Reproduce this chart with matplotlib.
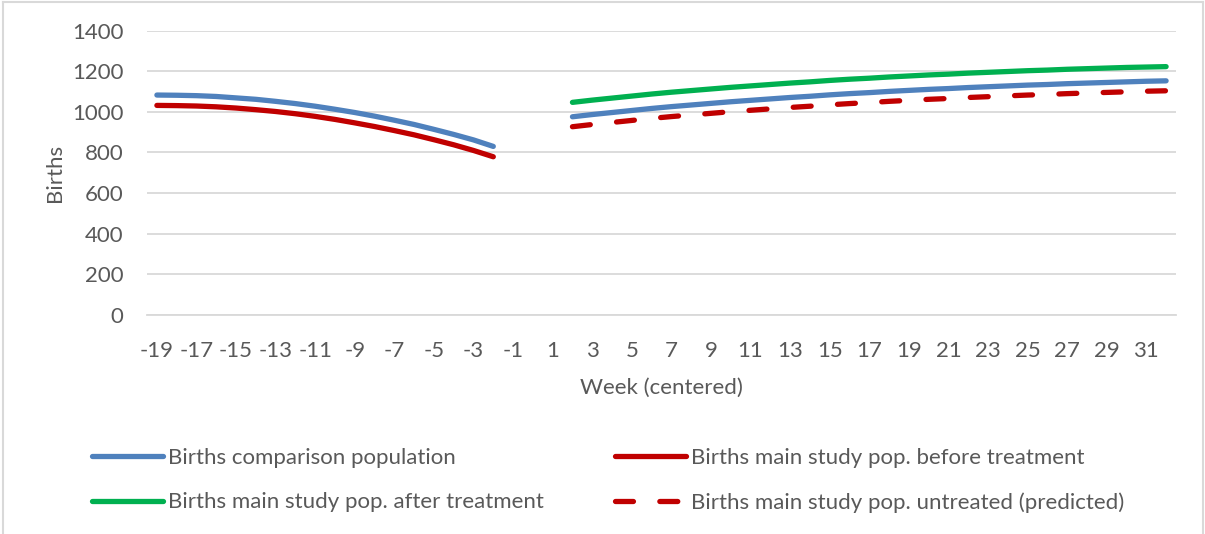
import matplotlib
matplotlib.use("Agg")
import matplotlib.pyplot as plt
import numpy as np

plt.rcParams['font.family'] = ['Lato', 'DejaVu Sans']

# weeks on the category axis
weeks = list(range(-19, 33))
weeks_before = list(range(-19, -1))
weeks_after = list(range(2, 33))

comp_before = [1082, 1081, 1079, 1075, 1068, 1061, 1051, 1040, 1027, 1012,
               996, 978, 958, 937, 913, 888, 861, 829]
main_before = [1031, 1030, 1028, 1024, 1018, 1010, 1001, 990, 977, 962,
               945, 927, 907, 886, 862, 837, 809, 778]
comp_after = [975, 986, 996, 1006, 1016, 1025, 1033, 1041, 1049, 1056, 1063,
              1070, 1076, 1083, 1089, 1094, 1100, 1105, 1110, 1114, 1119,
              1123, 1127, 1131, 1134, 1138, 1141, 1144, 1147, 1150, 1152]
main_after = [1046, 1057, 1067, 1077, 1087, 1096, 1104, 1112, 1120, 1127, 1134,
              1141, 1147, 1154, 1160, 1165, 1171, 1176, 1181, 1185, 1190,
              1194, 1198, 1202, 1205, 1209, 1212, 1215, 1218, 1220, 1222]
main_pred = [926, 937, 947, 957, 967, 976, 984, 992, 1000, 1007, 1014,
             1021, 1027, 1034, 1040, 1045, 1051, 1056, 1061, 1065, 1070,
             1074, 1078, 1082, 1085, 1089, 1092, 1095, 1098, 1101, 1103]

yticks = [0, 200, 400, 600, 800, 1000, 1200, 1400]

BLUE = '#4F81BD'
RED = '#C00000'
GREEN = '#00B050'
TXT = '#595959'
GRID = '#D9D9D9'
FS = 16

fig = plt.figure(figsize=(12.05, 5.34), dpi=100)
ax = fig.add_axes([147 / 1205, 1 - 314.7 / 534, (1176 - 147) / 1205, (314.7 - 30.5) / 534])

pos = {w: i for i, w in enumerate(weeks)}
xb = [pos[w] for w in weeks_before]
xa = [pos[w] for w in weeks_after]

lw = 3.8
l1, = ax.plot(xb, comp_before, color=BLUE, lw=lw, solid_capstyle='round',
              label='Births comparison population')
l2, = ax.plot(xb, main_before, color=RED, lw=lw, solid_capstyle='round',
              label='Births main study pop. before treatment')
ax.plot(xa, comp_after, color=BLUE, lw=lw, solid_capstyle='round')
l3, = ax.plot(xa, main_after, color=GREEN, lw=lw, solid_capstyle='round',
              label='Births main study pop. after treatment')
l4, = ax.plot(xa, main_pred, color=RED, lw=lw, dashes=(3.4, 5.0),
              dash_capstyle='round', label='Births main study pop. untreated (predicted)')

ax.set_xlim(-0.5, len(weeks) - 0.5)
ax.set_ylim(0, 1400)
ax.set_yticks(yticks)
ax.set_xticks([pos[w] for w in weeks[::2]])
ax.set_xticklabels([str(w) for w in weeks[::2]])
ax.grid(axis='y', color=GRID, lw=1.3)
ax.set_axisbelow(True)
for s in ['top', 'right', 'left']:
    ax.spines[s].set_visible(False)
ax.spines['bottom'].set_color(GRID)
ax.spines['bottom'].set_linewidth(1.3)
ax.tick_params(axis='both', length=0, labelsize=FS, colors=TXT)
ax.tick_params(axis='y', pad=17)
ax.tick_params(axis='x', pad=19)

ax.set_ylabel('Births', fontsize=FS, color=TXT, labelpad=5)
ax.set_xlabel('Week (centered)', fontsize=FS, color=TXT, labelpad=12)

leg = fig.legend(handles=[l1, l3, l2, l4], ncol=2, loc='upper left',
                 bbox_to_anchor=(83 / 1205, 1 - 439 / 534), frameon=False,
                 fontsize=FS, handlelength=3.2, handletextpad=0.22,
                 columnspacing=3.2, labelspacing=1.1, borderaxespad=0)
for t in leg.get_texts():
    t.set_color(TXT)

# chart border
fig.add_artist(plt.Line2D([2.5 / 1205, 2.5 / 1205], [0, 1 - 1.5 / 534], color=GRID, lw=1.5))
fig.add_artist(plt.Line2D([1203 / 1205, 1203 / 1205], [0, 1 - 1.5 / 534], color=GRID, lw=1.5))
fig.add_artist(plt.Line2D([2.5 / 1205, 1203 / 1205], [1 - 1.5 / 534, 1 - 1.5 / 534], color=GRID, lw=1.5))

fig.savefig('out.png', dpi=100, facecolor='white')
